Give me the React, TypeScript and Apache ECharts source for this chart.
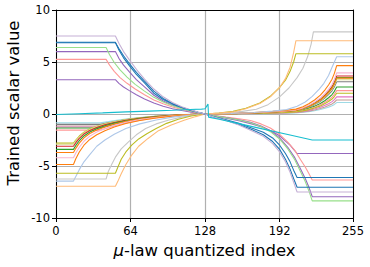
import React, { useEffect, useRef } from 'react';
import * as echarts from 'echarts';

type P = [number, number][];
const zip = (xs: number[], ys: number[]): P => xs.map((x, i) => [x, ys[i]]);

// ---- axis ticks ----
const X_TICKS = [0, 64, 128, 192, 255];
const Y_MIN = -10;
const Y_MAX = 10;
const Y_STEP = 5;

// ---- decreasing family (positive at low index, negative at high index) ----
const DEC_LAVENDER: P = [[0,7.5],[51,7.5],[54,6.8],[58,6.0],[63,5.2],[69,4.3],[76,3.35],[84,2.4],[92,1.65],[100,1.1],[108,0.7],[116,0.38],[122,0.18],[128,0],[136,-0.3],[146,-0.62],[157,-1.05],[168,-1.6],[178,-2.15],[186,-2.85],[192,-3.65],[197,-4.6],[201,-5.6],[204,-6.55],[207,-7.5],[255,-7.5]];
const DEC_BLUE: P = [[0,6.9],[51,6.9],[54,6.15],[58,5.4],[63,4.65],[69,3.8],[76,3.0],[84,2.0],[92,1.4],[100,0.95],[108,0.62],[116,0.34],[122,0.16],[128,0],[136,-0.27],[146,-0.55],[157,-0.9],[168,-1.35],[178,-1.75],[186,-2.3],[192,-3.0],[197,-3.8],[201,-4.6],[204,-5.4],[207,-6.1],[255,-6.1]];
const DEC_BLUE2: P = [[0,6.85],[51,6.85],[54,6.3],[58,5.6],[63,4.85],[69,4.0],[76,3.15],[84,2.2],[92,1.5],[100,1.0],[108,0.65],[116,0.36],[122,0.17],[128,0],[136,-0.3],[146,-0.6],[157,-1.0],[168,-1.5],[178,-2.0],[186,-2.65],[192,-3.4],[197,-4.35],[201,-5.3],[204,-6.2],[207,-7.05],[255,-7.05]];
const DEC_LIGHTGREEN: P = [[0,6.4],[43,6.4],[46,5.7],[50,4.95],[55,4.25],[61,3.55],[68,2.85],[76,2.2],[84,1.6],[92,1.15],[100,0.8],[108,0.52],[116,0.28],[122,0.13],[128,0],[136,-0.18],[146,-0.36],[157,-0.58],[167,-0.85],[176,-1.2],[184,-1.7],[192,-2.4],[199,-3.35],[205,-4.4],[210,-5.55],[214,-6.5],[217,-7.35],[220,-8.35],[255,-8.35]];
const DEC_PURPLE: P = [[0,6.0],[51,6.0],[54,5.35],[58,4.7],[63,4.05],[69,3.3],[76,2.6],[84,1.8],[92,1.25],[100,0.85],[108,0.55],[116,0.3],[122,0.14],[128,0],[136,-0.18],[146,-0.35],[157,-0.55],[167,-0.8],[176,-1.15],[184,-1.6],[192,-2.3],[199,-3.2],[205,-4.2],[210,-5.3],[214,-6.2],[217,-7.0],[220,-7.95],[255,-7.95]];
const DEC_SALMON: P = [[0,5.25],[43,5.25],[46,4.7],[50,4.1],[55,3.5],[61,2.95],[68,2.4],[76,1.85],[84,1.35],[92,0.98],[100,0.68],[108,0.44],[116,0.24],[122,0.11],[128,0],[136,-0.15],[146,-0.3],[157,-0.45],[167,-0.62],[176,-0.95],[184,-1.35],[192,-1.95],[199,-2.7],[205,-3.5],[210,-4.4],[214,-5.1],[217,-5.7],[220,-6.35],[255,-6.35]];
const DEC_PURPLE2: P = [[0,3.3],[51,3.3],[54,2.95],[58,2.6],[63,2.25],[69,1.85],[76,1.45],[84,1.05],[92,0.75],[100,0.5],[108,0.33],[116,0.18],[122,0.08],[128,0],[136,-0.2],[146,-0.4],[157,-0.65],[168,-0.95],[178,-1.3],[186,-1.7],[192,-2.1],[197,-2.6],[201,-3.0],[204,-3.4],[207,-3.8],[255,-3.8]];
const CYAN: P = [[0,-0.05],[20,0.03],[40,0.11],[60,0.2],[80,0.28],[100,0.36],[115,0.43],[125,0.47],[128,0.5],[130.5,0.95],[131,-0.3],[140,-0.5],[160,-1.0],[180,-1.5],[200,-2.0],[220,-2.5],[255,-2.5]];

// ---- increasing family (negative at low index, positive at high index) ----
const INC_LIGHTORANGE: P = [[0,-6.95],[51,-6.95],[53,-6.5],[56,-5.75],[60,-4.85],[65,-3.95],[71,-3.1],[79,-2.35],[88,-1.6],[99,-1.05],[110,-0.6],[120,-0.25],[128,0],[140,0.08],[152,0.2],[163,0.5],[175,1.0],[184,1.65],[192,2.55],[197,3.4],[201,4.5],[204,5.9],[206,7.05],[255,7.05]];
const INC_OLIVE: P = [[0,-5.7],[51,-5.7],[53,-5.15],[56,-4.35],[60,-3.65],[65,-3.0],[71,-2.4],[78,-1.9],[86,-1.4],[95,-0.9],[105,-0.5],[116,-0.2],[128,0],[140,0.1],[152,0.25],[163,0.55],[175,1.05],[184,1.7],[192,2.55],[197,3.25],[201,4.1],[204,5.0],[206,5.8],[255,5.8]];
const INC_LIGHTGRAY: P = [[0,-6.25],[43,-6.25],[45,-5.5],[48,-4.8],[51,-4.15],[56,-3.35],[62,-2.7],[69,-2.0],[77,-1.4],[86,-0.95],[97,-0.57],[108,-0.3],[118,-0.12],[128,0],[145,0.1],[160,0.25],[172,0.45],[182,0.9],[192,1.65],[200,2.5],[207,3.5],[212,4.4],[216,5.5],[219,6.7],[221,7.9],[255,7.9]];
const INC_LIGHTBLUE: P = [[0,-6.45],[15,-6.45],[17,-6.0],[20,-5.35],[24,-4.6],[29,-3.9],[35,-3.1],[42,-2.5],[50,-1.95],[60,-1.4],[72,-0.95],[86,-0.58],[100,-0.3],[114,-0.12],[128,0],[150,0.05],[170,0.15],[186,0.28],[198,0.42],[207,0.75],[214,1.15],[220,1.7],[226,2.4],[230,2.95],[234,3.7],[237,4.5],[239,5.0],[241,5.5],[255,5.5]];

// bundle of curves clipped at index 15 and 241
const BUNDLE_X = [0, 15, 17, 20, 24, 29, 35, 42, 50, 60, 72, 86, 100, 114, 128, 150, 170, 186, 197, 206, 212, 217, 222, 227, 231, 234, 237, 239, 241, 255];
const B_ORANGE = [-4.85,-4.85,-4.3,-3.65,-3.0,-2.45,-2.0,-1.6,-1.25,-0.92,-0.62,-0.38,-0.2,-0.08,0,0.05,0.14,0.26,0.35,0.47,0.7,0.98,1.35,1.81,2.33,2.79,3.35,3.91,4.65,4.65];
const B_LIGHTPINK = [-4.2,-4.2,-3.75,-3.2,-2.62,-2.13,-1.74,-1.4,-1.09,-0.8,-0.54,-0.33,-0.17,-0.07,0,0.04,0.12,0.22,0.3,0.4,0.59,0.83,1.15,1.54,1.98,2.37,2.84,3.32,3.95,3.95];
const B_ORANGE2 = [-3.7,-3.7,-3.3,-2.8,-2.3,-1.88,-1.54,-1.24,-0.97,-0.71,-0.48,-0.29,-0.15,-0.06,0,0.03,0.1,0.19,0.26,0.35,0.52,0.72,1.0,1.35,1.73,2.07,2.48,2.9,3.45,3.45];
const B_GREEN = [-3.4,-3.4,-3.02,-2.57,-2.11,-1.73,-1.41,-1.13,-0.88,-0.65,-0.44,-0.27,-0.14,-0.06,0,0.035,0.1,0.19,0.26,0.35,0.53,0.74,1.02,1.37,1.75,2.1,2.52,2.94,3.5,3.5];
const B_RED = [-3.1,-3.1,-2.76,-2.35,-1.93,-1.58,-1.29,-1.04,-0.81,-0.6,-0.41,-0.25,-0.13,-0.05,0,0.04,0.11,0.2,0.27,0.37,0.55,0.77,1.06,1.42,1.83,2.19,2.63,3.07,3.65,3.65];
const B_LIGHTOLIVE = [-2.9,-2.9,-2.58,-2.2,-1.81,-1.48,-1.21,-0.97,-0.76,-0.56,-0.38,-0.23,-0.12,-0.05,0,0.03,0.1,0.18,0.25,0.33,0.5,0.69,0.96,1.29,1.65,1.98,2.38,2.77,3.3,3.3];
const B_OLIVE2 = [-2.8,-2.8,-2.5,-2.12,-1.75,-1.43,-1.17,-0.94,-0.74,-0.54,-0.37,-0.22,-0.12,-0.05,0,0.02,0.06,0.11,0.15,0.2,0.3,0.42,0.58,0.78,1.0,1.2,1.44,1.68,2.0,2.0];

// small-amplitude curves clipped at index 38 and 241
const SMALL_X = [0, 38, 45, 52, 60, 72, 86, 100, 114, 128, 150, 170, 186, 197, 206, 212, 217, 222, 227, 231, 234, 237, 239, 241, 255];
const S_GRAY = [-1.0,-1.0,-0.85,-0.7,-0.56,-0.38,-0.23,-0.12,-0.05,0,0.03,0.09,0.17,0.23,0.31,0.47,0.65,0.9,1.21,1.55,1.86,2.23,2.6,3.1,3.1];
const S_LIGHTCYAN = [-0.85,-0.85,-0.73,-0.6,-0.48,-0.33,-0.2,-0.1,-0.04,0,0.01,0.03,0.06,0.08,0.11,0.17,0.23,0.32,0.43,0.55,0.66,0.79,0.92,1.1,1.1];
const S_BROWN = [-1.15,-1.15,-0.98,-0.8,-0.64,-0.44,-0.27,-0.14,-0.055,0,0.01,0.04,0.07,0.1,0.14,0.2,0.28,0.39,0.53,0.68,0.81,0.97,1.13,1.35,1.35];
const S_PINK = [-1.25,-1.25,-1.06,-0.87,-0.7,-0.48,-0.29,-0.15,-0.06,0,0.02,0.05,0.09,0.12,0.17,0.25,0.35,0.48,0.64,0.83,0.99,1.19,1.39,1.65,1.65];
const S_GREEN = [-1.35,-1.35,-1.15,-0.94,-0.75,-0.51,-0.31,-0.16,-0.065,0,0.03,0.08,0.14,0.2,0.26,0.39,0.55,0.75,1.01,1.3,1.56,1.87,2.18,2.6,2.6];
const S_RED = [-1.55,-1.55,-1.32,-1.08,-0.86,-0.59,-0.36,-0.19,-0.075,0,0.02,0.07,0.12,0.17,0.23,0.34,0.47,0.65,0.88,1.13,1.35,1.62,1.89,2.25,2.25];

const LINES: { data: P; color: string }[] = [
  { data: zip(SMALL_X, S_LIGHTCYAN), color: '#9edae5' },
  { data: zip(SMALL_X, S_GRAY), color: '#7f7f7f' },
  { data: zip(SMALL_X, S_BROWN), color: '#c49c94' },
  { data: zip(SMALL_X, S_PINK), color: '#e377c2' },
  { data: zip(SMALL_X, S_GREEN), color: '#2ca02c' },
  { data: zip(SMALL_X, S_RED), color: '#ff9896' },
  { data: zip(BUNDLE_X, B_OLIVE2), color: '#bcbd22' },
  { data: zip(BUNDLE_X, B_LIGHTOLIVE), color: '#dbdb8d' },
  { data: zip(BUNDLE_X, B_RED), color: '#d62728' },
  { data: zip(BUNDLE_X, B_GREEN), color: '#2ca02c' },
  { data: zip(BUNDLE_X, B_ORANGE2), color: '#ff7f0e' },
  { data: zip(BUNDLE_X, B_LIGHTPINK), color: '#f7b6d2' },
  { data: zip(BUNDLE_X, B_ORANGE), color: '#ff7f0e' },
  { data: INC_LIGHTBLUE, color: '#aec7e8' },
  { data: INC_LIGHTGRAY, color: '#c7c7c7' },
  { data: INC_OLIVE, color: '#bcbd22' },
  { data: INC_LIGHTORANGE, color: '#ffbb78' },
  { data: DEC_PURPLE2, color: '#9467bd' },
  { data: DEC_SALMON, color: '#ff9896' },
  { data: DEC_PURPLE, color: '#9467bd' },
  { data: DEC_LIGHTGREEN, color: '#98df8a' },
  { data: DEC_BLUE2, color: '#1f77b4' },
  { data: DEC_BLUE, color: '#1f77b4' },
  { data: DEC_LAVENDER, color: '#c5b0d5' },
  { data: CYAN, color: '#17becf' },
];

const FONT = "'DejaVu Sans', sans-serif";
const BLACK = '#000';

export default function App() {
  const ref = useRef<HTMLDivElement>(null);
  useEffect(() => {
    if (!ref.current) return;
    const chart = echarts.init(ref.current, undefined, { renderer: 'svg' });
    const frameAxis = {
      show: true,
      axisLine: { show: true, onZero: false, lineStyle: { color: BLACK, width: 1 } },
      axisTick: { show: false },
      axisLabel: { show: false },
      splitLine: { show: false },
    };
    chart.setOption({
      animation: false,
      backgroundColor: '#ffffff',
      grid: { left: 56, right: 17, top: 10, bottom: 49, containLabel: false },
      xAxis: [
        {
          type: 'value',
          min: 0,
          max: 255,
          interval: 64,
          axisLine: { show: true, onZero: false, lineStyle: { color: BLACK, width: 1 } },
          axisTick: { show: true, length: 4, lineStyle: { color: BLACK, width: 1 }, customValues: X_TICKS },
          axisLabel: { customValues: X_TICKS, color: BLACK, fontSize: 11.5, fontFamily: FONT, margin: 7 },
          splitLine: { show: true, lineStyle: { color: '#b0b0b0', width: 1.2 } },
          name: '{i|μ}-law quantized index',
          nameLocation: 'middle',
          nameGap: 24,
          nameTextStyle: {
            color: BLACK,
            fontSize: 16.5,
            fontFamily: FONT,
            rich: { i: { fontStyle: 'italic', fontSize: 16.5, fontFamily: FONT, color: BLACK } },
          },
        },
        { type: 'value', position: 'top', min: 0, max: 255, ...frameAxis },
      ],
      yAxis: [
        {
          type: 'value',
          min: Y_MIN,
          max: Y_MAX,
          interval: Y_STEP,
          axisLine: { show: true, onZero: false, lineStyle: { color: BLACK, width: 1 } },
          axisTick: { show: true, length: 4, lineStyle: { color: BLACK, width: 1 } },
          axisLabel: { color: BLACK, fontSize: 11.5, fontFamily: FONT, margin: 6 },
          splitLine: { show: true, lineStyle: { color: '#b0b0b0', width: 1.2 } },
        },
        { type: 'value', position: 'right', min: Y_MIN, max: Y_MAX, ...frameAxis },
      ],
      graphic: [
        {
          type: 'text',
          x: 13,
          y: 103,
          rotation: Math.PI / 2,
          style: {
            text: 'Trained scalar value',
            fontSize: 16.5,
            fontFamily: FONT,
            fill: BLACK,
            align: 'center',
            verticalAlign: 'middle',
          },
        },
      ],
      series: LINES.map((l) => ({
        type: 'line',
        data: l.data,
        xAxisIndex: 0,
        yAxisIndex: 0,
        showSymbol: false,
        symbol: 'none',
        smooth: false,
        lineStyle: { color: l.color, width: 1.1 },
        itemStyle: { color: l.color },
        emphasis: { disabled: true },
        silent: true,
      })),
    });
    return () => chart.dispose();
  }, []);
  return <div ref={ref} style={{ position: 'absolute', left: 0, top: 0, width: 370, height: 267 }} />;
}
